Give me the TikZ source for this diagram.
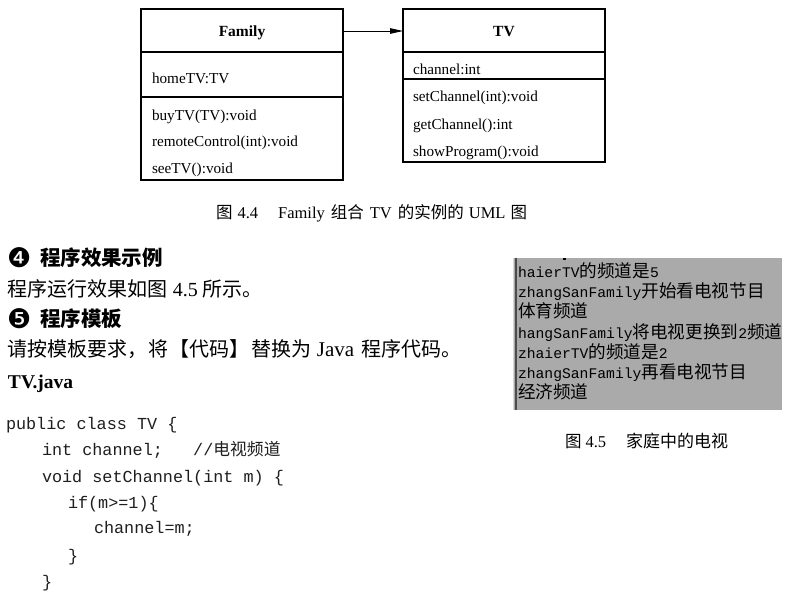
\documentclass[tikz,border=0pt]{standalone}
\usepackage{fontspec}
\setmainfont{Liberation Serif}
\setmonofont{Liberation Mono}
\newfontfamily\cjk{Noto Sans CJK SC}
\newfontfamily\dejavu{DejaVu Sans}
\usetikzlibrary{arrows.meta}
\definecolor{panelgray}{RGB}{170,170,170}
\definecolor{codeink}{RGB}{30,30,30}
\newcommand\zh[1]{{\cjk #1}}
\newcommand\zs[1]{{\cjk\fontsize{17.6}{17.6}\selectfont #1}}
\newcommand\fs[1]{\fontsize{#1}{#1}\selectfont}
\begin{document}
\begin{tikzpicture}[x=1pt,y=-1pt,
  txt/.style={anchor=base west, inner sep=0pt, outer sep=0pt},
  uml/.style={txt, font=\fs{15.2}},
  umltitle/.style={anchor=base, inner sep=0pt, font=\fs{15.5}\bfseries},
  box/.style={draw, line width=1.1pt, inner sep=0pt, outer sep=0pt},
  sep/.style={line width=1.1pt},
  code/.style={txt, font=\fs{16.8}\ttfamily, text=codeink},
  scr/.style={txt, font=\fs{14.7}\ttfamily},
  body/.style={txt, font=\fs{20}},
  headsym/.style={txt, font=\dejavu\fs{27}},
  headtxt/.style={txt, font=\fs{20.5}\bfseries\cjk},
]
\useasboundingbox (0,0) rectangle (788,592);
\fill[white] (0,0) rectangle (788,592);

% ---------- UML ----------
\node[box, minimum width=202pt, minimum height=171pt, anchor=north west] (family) at (141,9) {};
\node[box, minimum width=202pt, minimum height=153pt, anchor=north west] (tv) at (403,9) {};
\draw[sep] ([yshift=-43pt]family.north west) -- ([yshift=-43pt]family.north east);
\draw[sep] ([yshift=-88pt]family.north west) -- ([yshift=-88pt]family.north east);
\draw[sep] ([yshift=-43pt]tv.north west) -- ([yshift=-43pt]tv.north east);
\draw[sep] ([yshift=-70pt]tv.north west) -- ([yshift=-70pt]tv.north east);

\node[umltitle] (famtitle) at (242,36.7) {Family};
\node[umltitle] (tvtitle) at (504,36.7) {TV};
\coordinate (arr) at (0,31);
\draw[line width=0.8pt, -{Triangle[length=13pt,width=5.5pt]}] (family.east |- arr) -- (tv.west |- arr);

\node[uml] (hometv) at (152,83) {homeTV:TV};
\node[uml] (buytv) at (152,120.7) {buyTV(TV):void};
\node[uml] (remote) at (152,146.7) {remoteControl(int):void};
\node[uml] (seetv) at (152,173) {seeTV():void};
\node[uml] (chan) at (413,74.5) {channel:int};
\node[uml] (setc) at (413,101.7) {setChannel(int):void};
\node[uml] (getc) at (413,129) {getChannel():int};
\node[uml] (showp) at (413,156) {showProgram():void};

\node[txt, font=\fs{16.5}] (cap1) at (216,218) {\zh{图}\hspace{5pt}4.4\hspace{20pt}Family\hspace{6pt}\zh{组合}\hspace{6pt}TV\hspace{6pt}\zh{的实例的}\hspace{5pt}UML\hspace{5pt}\zh{图}};

% ---------- body text ----------
\node[headsym] (h4) at (7,267.5) {❹};
\node[headtxt] (h4t) at (40,265) {程序效果示例};
\node[body] (p1) at (8,296) {\zh{程序运行效果如图}\hspace{5pt}4.5\hspace{5pt}\zh{所示。}};
\node[headsym] (h5) at (7,328.5) {❺};
\node[headtxt] (h5t) at (40,326) {程序模板};
\node[body] (p2) at (8,356) {\zh{请按模板要求，\hspace{1pt}将\hspace{1pt}【代码】\hspace{2pt}替换为}\hspace{5pt}{\fs{21}Java}\hspace{7pt}\zh{程序代码。}};
\node[txt, font=\fs{19.5}\bfseries] (tvj) at (8,388) {TV.java};

% ---------- code ----------
\node[code] (c1) at (6,429) {public class TV \{};
\node[code] (c2) at (42,455) {int channel;\ \ \ //{\cjk 电视频道}};
\node[code] (c3) at (42,482) {void setChannel(int m) \{};
\node[code] (c4) at (68,508) {if(m>=1)\{};
\node[code] (c5) at (94,533.5) {channel=m;};
\node[code] (c6) at (68,561) {\}};
\node[code] (c7) at (42,587) {\}};

% ---------- screenshot panel ----------
\fill[panelgray] (513,257.5) rectangle (782,410);
\draw[black!15, line width=1pt] (513.5,257.5) -- (513.5,410);
\draw[black!70, line width=1.6pt] (516,257.5) -- (516,410);
\fill[black] (563,257.5) rectangle (566,259.5);

\node[scr] (s1) at (518,277) {haierTV\zs{的频道是}5};
\node[scr] (s2) at (518,297) {zhangSanFamily\zs{开始看电视节目}};
\node[scr] (s3) at (518,317.5) {\zs{体育频道}};
\node[scr] (s4) at (518,338) {hangSanFamily\zs{将电视更换到}2\zs{频道}};
\node[scr] (s5) at (518,358) {zhaierTV\zs{的频道是}2};
\node[scr] (s6) at (518,378) {zhangSanFamily\zs{再看电视节目}};
\node[scr] (s7) at (518,398.5) {\zs{经济频道}};

\node[txt, font=\fs{16.5}] (cap2) at (565,447) {\zh{图}\hspace{4pt}4.5\hspace{20pt}{\cjk\fs{17}家庭中的电视}};
\end{tikzpicture}
\end{document}
